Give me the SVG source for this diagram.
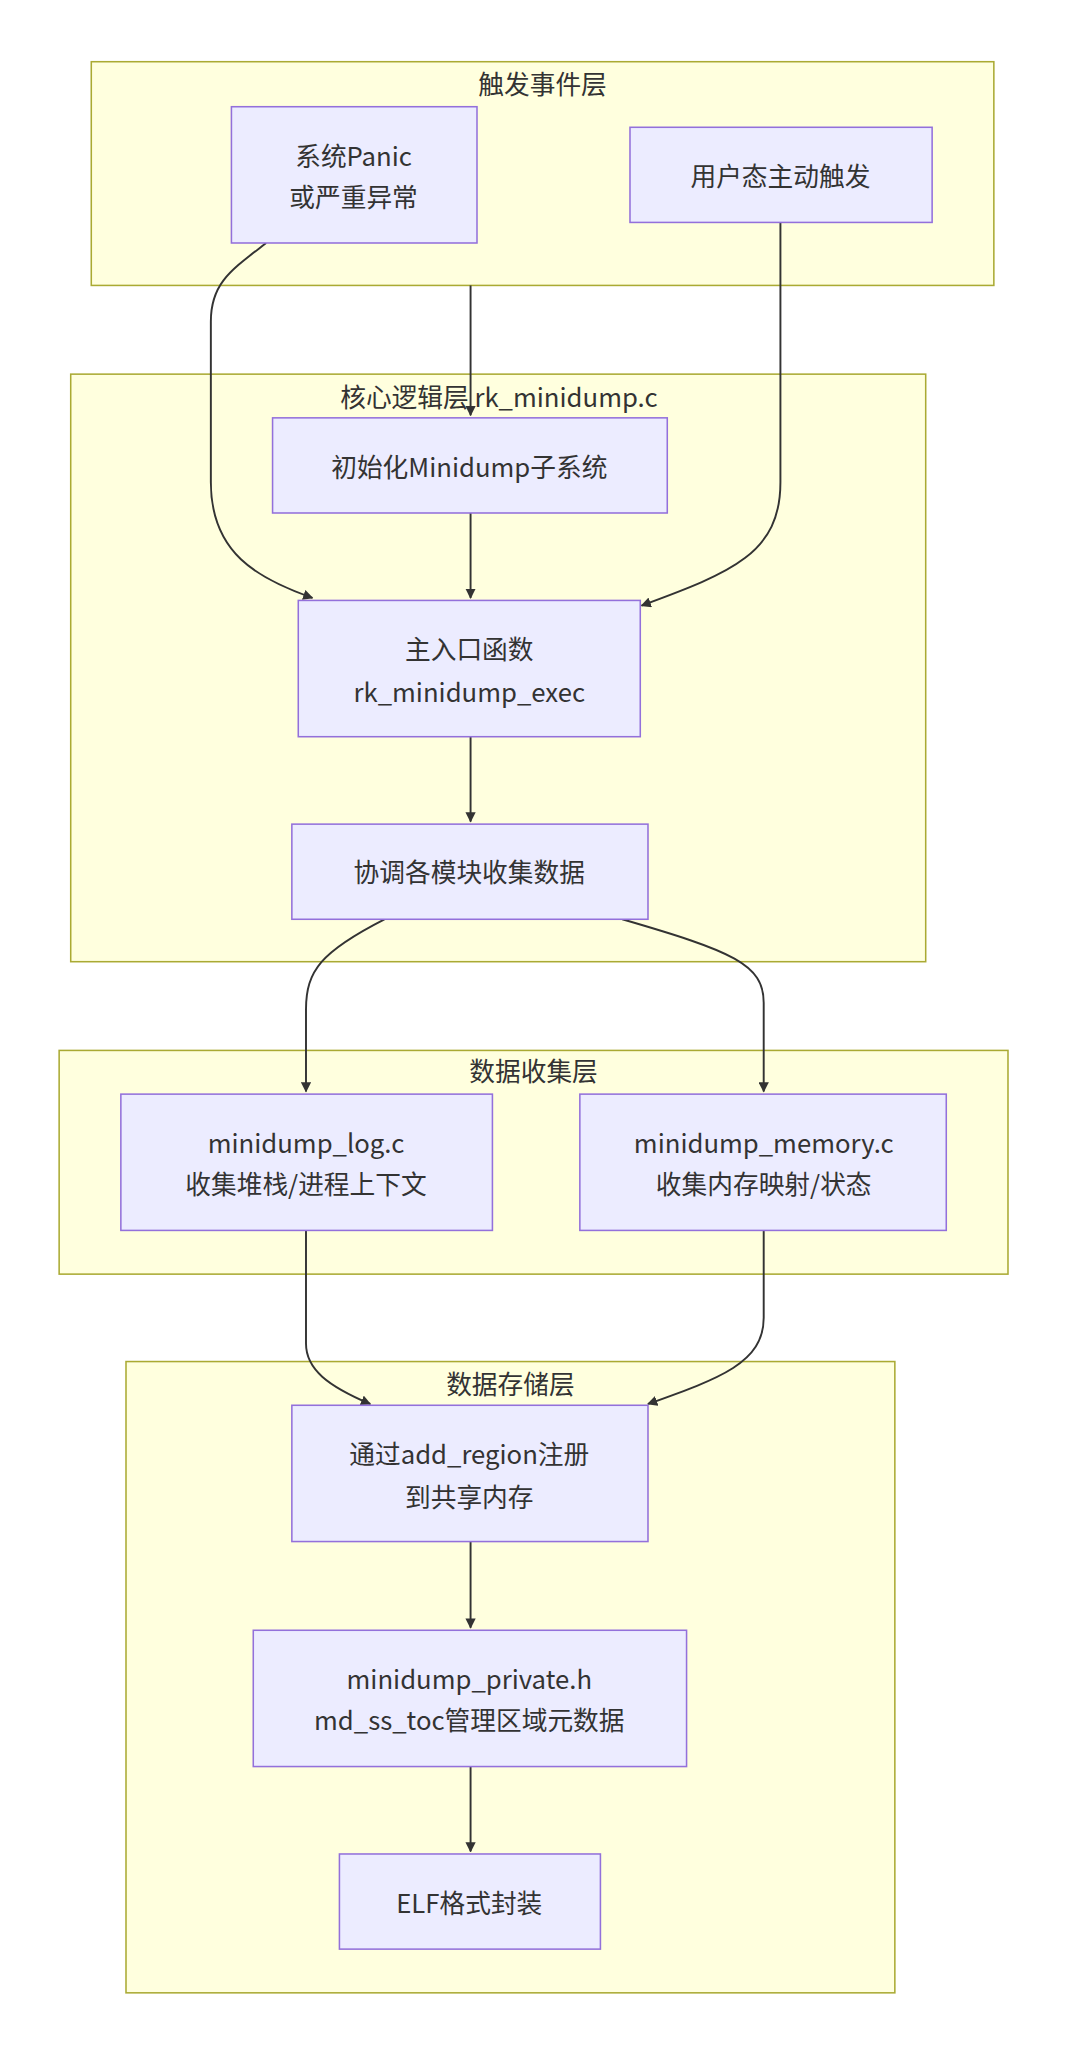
<svg xmlns="http://www.w3.org/2000/svg" width="1080" height="2066" viewBox="0 0 1080 2066">
<defs>
<style>
.sg{fill:#ffffde;stroke:#aaaa33;stroke-width:1.2}
.nd{fill:#ececff;stroke:#9370db;stroke-width:1.2}
text{font-family:"Noto Sans CJK SC","Noto Sans",sans-serif;font-size:20px;fill:#333;text-anchor:middle;dominant-baseline:central}
.e{fill:none;stroke:#333;stroke-width:1.5}
</style>
<marker id="ar" viewBox="0 0 10 10" refX="9" refY="5" markerWidth="8" markerHeight="8" orient="auto" markerUnits="userSpaceOnUse"><path d="M0,0L10,5L0,10z" fill="#333"/></marker>
</defs>
<rect width="1080" height="2066" fill="#fff"/>
<g transform="scale(1.2857)">
<g id="sg1"><rect class="sg" x="71" y="48" width="702" height="174"/><text x="422" y="64">触发事件层</text></g>
<g id="sg2"><rect class="sg" x="55" y="291" width="665" height="457"/><text x="388" y="308">核心逻辑层 rk_minidump.c</text></g>
<g id="sg3"><rect class="sg" x="46" y="817" width="738" height="174"/><text x="415" y="832">数据收集层</text></g>
<g id="sg4"><rect class="sg" x="98" y="1059" width="598" height="491"/><text x="397" y="1075">数据存储层</text></g>
<g id="edges">
<path class="e" marker-end="url(#ar)" d="M207,189 C180,210 164,220 164,250 L164,375 C164,430 200,450 243,465"/>
<path class="e" marker-end="url(#ar)" d="M366,222 L366,323"/>
<path class="e" marker-end="url(#ar)" d="M607,173 L607,375 C607,430 570,445 499,471"/>
<path class="e" marker-end="url(#ar)" d="M366,399 L366,465"/>
<path class="e" marker-end="url(#ar)" d="M366,573 L366,639"/>
<path class="e" marker-end="url(#ar)" d="M299,715 C250,740 238,755 238,785 L238,849"/>
<path class="e" marker-end="url(#ar)" d="M484,715 C570,740 594,750 594,780 L594,849"/>
<path class="e" marker-end="url(#ar)" d="M238,957 L238,1045 C238,1065 255,1078 288,1092"/>
<path class="e" marker-end="url(#ar)" d="M594,957 L594,1025 C594,1060 560,1072 504,1092"/>
<path class="e" marker-end="url(#ar)" d="M366,1199 L366,1266"/>
<path class="e" marker-end="url(#ar)" d="M366,1374 L366,1440"/>
</g>
<g id="A"><rect class="nd" x="180" y="83" width="191" height="106"/><text x="275" y="120">系统Panic</text><text x="275" y="152">或严重异常</text></g>
<g id="B"><rect class="nd" x="490" y="99" width="235" height="74"/><text x="607" y="136">用户态主动触发</text></g>
<g id="C"><rect class="nd" x="212" y="325" width="307" height="74"/><text x="365" y="362">初始化Minidump子系统</text></g>
<g id="D"><rect class="nd" x="232" y="467" width="266" height="106"/><text x="365" y="504">主入口函数</text><text x="365" y="537">rk_minidump_exec</text></g>
<g id="E"><rect class="nd" x="227" y="641" width="277" height="74"/><text x="365" y="677">协调各模块收集数据</text></g>
<g id="F"><rect class="nd" x="94" y="851" width="289" height="106"/><text x="238" y="888">minidump_log.c</text><text x="238" y="920">收集堆栈/进程上下文</text></g>
<g id="G"><rect class="nd" x="451" y="851" width="285" height="106"/><text x="594" y="888">minidump_memory.c</text><text x="594" y="920">收集内存映射/状态</text></g>
<g id="H"><rect class="nd" x="227" y="1093" width="277" height="106"/><text x="365" y="1130">通过add_region注册</text><text x="365" y="1163">到共享内存</text></g>
<g id="I"><rect class="nd" x="197" y="1268" width="337" height="106"/><text x="365" y="1305">minidump_private.h</text><text x="365" y="1337">md_ss_toc管理区域元数据</text></g>
<g id="J"><rect class="nd" x="264" y="1442" width="203" height="74"/><text x="365" y="1479">ELF格式封装</text></g>
</g>
</svg>
